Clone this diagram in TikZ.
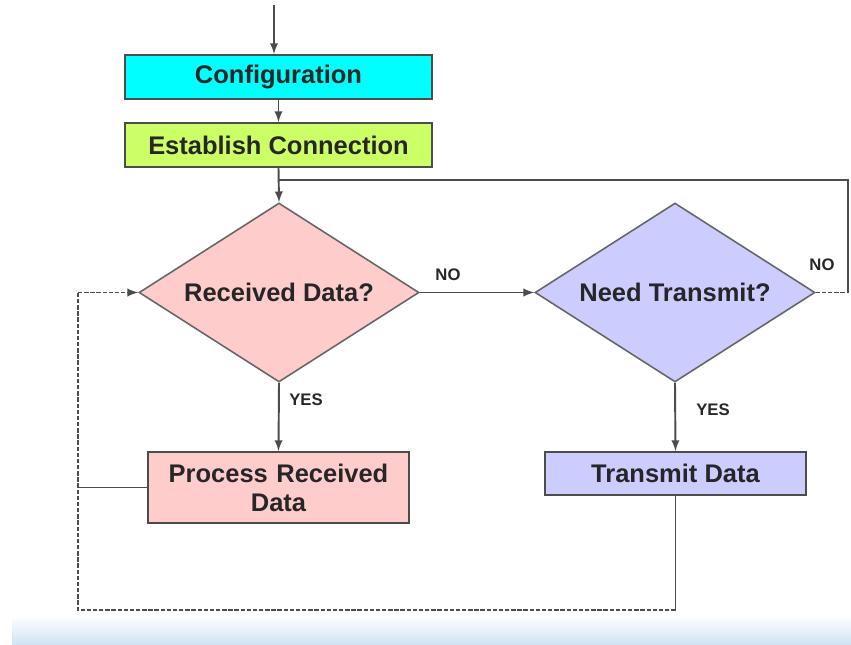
\documentclass[tikz,border=0pt]{standalone}
\usepackage{fontspec}
\setmainfont{Liberation Sans}
\usepackage[usenames,dvipsnames,svgnames,table]{xcolor}
\usepackage{tikz}
\usetikzlibrary{shapes,arrows,backgrounds,positioning}
\definecolor{cfgcyan}{HTML}{00FFFF}
\definecolor{estlime}{HTML}{CCFF66}
\definecolor{rxpink}{HTML}{FFCCCC}
\definecolor{txblue}{HTML}{CCCCFF}
\definecolor{bandblue}{HTML}{CFE2F3}
\tikzstyle{stepbox}=[rectangle, draw=black!70, line width=1.1pt, text centered, font=\fontsize{14.5}{16}\selectfont\bfseries, text=black!85]
\tikzstyle{decide}=[diamond, aspect=1.6, draw=black!60, line width=0.9pt, inner sep=0pt, minimum width=5.6cm, minimum height=3.58cm, font=\fontsize{14.5}{16}\selectfont\bfseries, text=black!85]
\tikzstyle{answer}=[font=\fontsize{9.5}{11}\selectfont\bfseries, text=black!85]
\tikzstyle{flow}=[draw=black!70, line width=1.1pt, -latex]
\tikzstyle{back}=[draw=black!70, line width=1.1pt, dashed, dash pattern=on 2.5pt off 1pt]

\begin{document}
\begin{tikzpicture}
\useasboundingbox (0,0) rectangle (17.02,-12.9);
%Band
\shade[top color=white, bottom color=bandblue] (0.24,-12.3) rectangle (17.02,-12.9);
%Boxes
\node[stepbox, fill=cfgcyan, minimum width=6.14cm, minimum height=0.88cm](conf) at (5.57,-1.54){Configuration};
\node[stepbox, fill=estlime, minimum width=6.14cm, minimum height=0.88cm](est) at (5.57,-2.9){Establish Connection};
\node[decide, fill=rxpink](rd) at (5.58,-5.85){Received Data?};
\node[decide, fill=txblue](nt) at (13.5,-5.85){Need Transmit?};
\node[stepbox, fill=rxpink, minimum width=5.22cm, minimum height=1.42cm, text width=5cm, font=\fontsize{14.5}{16.5}\selectfont\bfseries](prd) at (5.57,-9.75){Process Received\\Data};
\node[stepbox, fill=txblue, minimum width=5.22cm, minimum height=0.86cm](td) at (13.51,-9.47){Transmit Data};
%Labels
\node[answer](no1) at (8.96,-5.5){NO};
\node[answer](no2) at (16.44,-5.3){NO};
\node[answer](yes1) at (6.12,-8.0){YES};
\node[answer](yes2) at (14.26,-8.2){YES};
%Points
\coordinate (start) at (5.48,-0.1);
\coordinate (join) at (5.58,-3.6);
\coordinate (ntcorner) at (16.96,-5.85);
\coordinate (botright) at (13.51,-12.2);
\coordinate (botleft) at (1.56,-12.2);
\coordinate (leftup) at (1.56,-5.85);
%Arrows
\draw[flow] (start) -- (start |- conf.north);
\draw[flow] (conf.south) -- (est.north);
\draw[flow] (est.south) -- (rd.north);
\draw[flow] (rd.east) -- (nt.west);
\draw[flow] (rd.south) -- (prd.north);
\draw[flow] (nt.south) -- (td.north);
%Loops
\draw[back] (nt.east) -- (ntcorner);
\draw[draw=black!70, line width=1.1pt] (ntcorner) |- (join);
\draw[draw=black!70, line width=1.1pt] (td.south) -- (botright);
\draw[back] (botright) -- (botleft) -- (leftup);
\draw[back, -latex] (leftup) -- (rd.west);
\draw[draw=black!70, line width=1.1pt] (prd.west) -- (prd.west -| botleft);
\end{tikzpicture}
\end{document}
